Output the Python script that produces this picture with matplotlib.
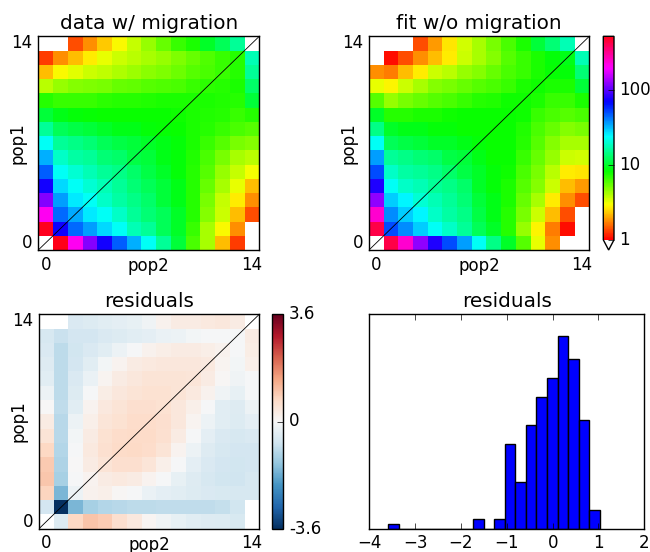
import numpy as np
import matplotlib
matplotlib.use('Agg')
import matplotlib.pyplot as plt
from matplotlib.colors import LogNorm, Normalize
from matplotlib.ticker import FormatStrFormatter

plt.style.use('classic')

pop_ids = ['pop1', 'pop2']
titles = ['data w/ migration', 'fit w/o migration', 'residuals', 'residuals']

# 2D frequency spectrum, rows = pop1 (0..14), columns = pop2 (0..14); 0 = empty cell
data_counts = [
    [0, 515, 208, 117, 74, 47, 33, 23, 15.4, 10.4, 6.2, 4.2, 2.2, 1.3, 0],
    [500, 72, 44, 36, 28, 23, 17.6, 15.4, 12, 9.8, 6.6, 4.2, 2.9, 1.8, 0],
    [208, 44, 34, 26, 23, 19, 15.4, 13.5, 12, 9.8, 7.1, 4.8, 3.6, 2.2, 1.4],
    [117, 36, 26, 23, 19, 16.5, 14.4, 12.7, 10.4, 9.2, 7.1, 5.1, 3.7, 2.7, 1.8],
    [74, 28, 23, 20, 17.6, 15.4, 13.5, 12, 10.4, 9.2, 7.1, 5.4, 4.2, 3.2, 2.2],
    [47, 23, 20, 17.6, 15.4, 14.4, 12.7, 11.1, 9.8, 8.5, 7.1, 5.8, 4.5, 3.7, 3.0],
    [33, 19, 16.5, 15.4, 13.5, 12.7, 11.1, 10.4, 9.2, 8.5, 7.3, 6.2, 5.1, 4.2, 3.9],
    [23, 15.4, 14.4, 13.5, 11.9, 11.1, 10.4, 9.8, 9.2, 8.5, 7.5, 6.6, 5.8, 5.1, 4.8],
    [15.4, 11.9, 11.1, 10.4, 9.8, 9.2, 9.2, 8.5, 8.2, 8.0, 7.5, 7.1, 6.6, 6.2, 5.8],
    [10.4, 9.2, 8.5, 8.2, 8.0, 8.0, 8.0, 8.0, 8.0, 7.8, 7.5, 7.3, 7.1, 6.6, 7.1],
    [7.1, 6.6, 6.6, 6.6, 6.9, 7.1, 7.1, 7.3, 7.5, 7.5, 7.5, 7.5, 7.3, 7.1, 10.4],
    [3.9, 4.5, 4.8, 5.0, 5.1, 5.4, 5.6, 5.8, 6.0, 6.2, 6.6, 6.9, 7.1, 7.5, 12.7],
    [2.2, 2.9, 3.3, 3.6, 3.8, 4.1, 4.4, 4.7, 5.0, 5.3, 5.8, 6.2, 6.6, 7.1, 15.4],
    [1.3, 1.8, 2.2, 2.7, 3.2, 3.6, 3.9, 4.2, 4.5, 5.0, 5.4, 6.0, 6.6, 7.1, 17.6],
    [0, 0, 1.4, 1.8, 2.3, 2.9, 3.7, 4.5, 5.4, 6.6, 7.5, 9.8, 11.9, 15.4, 0],
]

model_counts = [
    [0, 420, 238, 124, 78, 50, 36, 23, 14.4, 9.8, 5.8, 3.2, 1.8, 0, 0],
    [420, 50, 38, 29, 23, 18.8, 15.4, 11.9, 9.8, 7.1, 4.5, 2.8, 1.7, 1.05, 0],
    [238, 38, 29, 25, 19, 16.5, 14.4, 11.1, 9.2, 7.1, 5.1, 3.6, 2.2, 1.4, 0],
    [124, 29, 25, 20, 17.6, 15.4, 13.5, 10.4, 9.2, 7.5, 5.4, 4.2, 2.7, 1.8, 1.4],
    [78, 23, 19, 17.6, 15.4, 14.4, 12.7, 9.8, 8.5, 7.5, 5.8, 4.8, 3.6, 2.2, 1.9],
    [50, 18.8, 16.5, 15.4, 14.4, 12.7, 11.1, 9.8, 8.5, 7.8, 6.2, 5.1, 3.9, 2.7, 2.6],
    [36, 15.4, 14.4, 13.5, 12.7, 11.1, 10.4, 9.2, 8.0, 8.0, 6.6, 5.4, 4.5, 3.6, 3.5],
    [23, 11.9, 11.1, 10.4, 9.8, 9.8, 9.2, 8.5, 8.0, 8.0, 7.1, 5.8, 4.8, 4.2, 4.2],
    [14.4, 9.8, 9.2, 9.2, 8.5, 8.5, 8.0, 8.0, 8.0, 8.0, 7.3, 6.2, 5.4, 4.8, 5.1],
    [9.8, 7.1, 7.1, 7.5, 7.5, 7.8, 8.0, 8.0, 8.0, 8.0, 7.8, 6.6, 6.2, 5.8, 6.2],
    [5.8, 4.5, 5.1, 5.4, 5.8, 6.2, 6.6, 7.1, 7.3, 7.8, 7.9, 7.5, 6.6, 6.6, 7.5],
    [3.2, 2.8, 3.6, 4.2, 4.8, 5.1, 5.4, 5.8, 6.2, 6.6, 7.5, 7.8, 7.5, 7.5, 10.4],
    [1.8, 1.7, 2.2, 2.7, 3.6, 3.9, 4.5, 4.8, 5.4, 6.2, 6.6, 7.5, 8.2, 8.5, 13.5],
    [0, 1.05, 1.4, 1.8, 2.2, 2.7, 3.6, 4.2, 4.8, 5.8, 6.6, 7.5, 8.5, 9.2, 17.6],
    [0, 0, 0, 1.4, 1.9, 2.6, 3.5, 4.2, 5.1, 6.2, 7.5, 10.4, 13.5, 17.6, 0],
]

# Poisson residuals, nan = masked cell
nan = np.nan
residuals = [
    [nan, -0.5, 0.75, 1.03, 0.9, 0.6, 0.38, 0.08, -0.15, -0.3, -0.4, -0.45, -0.5, -0.58, nan],
    [-0.65, -3.585, -1.65, -1.2, -1.05, -1.0, -0.95, -0.95, -0.9, -0.9, -0.9, -0.9, -0.85, -0.7, nan],
    [0.8, -1.65, -0.2, 0.15, 0.2, 0.05, -0.05, -0.25, -0.35, -0.42, -0.48, -0.55, -0.58, -0.6, -0.6],
    [1.0, -1.2, -0.05, 0.12, 0.3, 0.35, 0.3, 0.12, -0.05, -0.3, -0.45, -0.6, -0.7, -0.72, -0.6],
    [0.95, -1.1, 0.0, 0.3, 0.5, 0.6, 0.6, 0.45, 0.2, -0.05, -0.35, -0.55, -0.65, -0.7, -0.65],
    [0.75, -1.05, -0.05, 0.35, 0.58, 0.68, 0.72, 0.65, 0.48, 0.12, -0.2, -0.45, -0.6, -0.65, -0.65],
    [0.5, -1.0, -0.1, 0.3, 0.55, 0.65, 0.7, 0.68, 0.58, 0.3, -0.05, -0.35, -0.55, -0.6, -0.55],
    [0.3, -1.0, -0.2, 0.2, 0.45, 0.55, 0.65, 0.65, 0.6, 0.4, 0.1, -0.2, -0.42, -0.5, -0.35],
    [0.0, -0.9, -0.4, 0.12, 0.38, 0.5, 0.6, 0.6, 0.55, 0.4, 0.22, -0.05, -0.4, -0.45, -0.2],
    [-0.2, -0.95, -0.5, -0.05, 0.28, 0.42, 0.5, 0.55, 0.55, 0.5, 0.35, 0.15, -0.15, -0.3, -0.05],
    [-0.4, -0.95, -0.55, -0.25, 0.1, 0.3, 0.42, 0.48, 0.48, 0.5, 0.45, 0.3, 0.05, -0.15, -0.05],
    [-0.45, -0.95, -0.65, -0.4, -0.1, 0.12, 0.3, 0.35, 0.42, 0.42, 0.4, 0.35, 0.1, -0.1, 0.2],
    [-0.55, -0.95, -0.7, -0.55, -0.4, -0.2, -0.05, 0.15, 0.25, 0.3, 0.3, 0.25, 0.15, -0.05, 0.28],
    [-0.6, -0.8, -0.65, -0.65, -0.55, -0.5, -0.4, -0.35, -0.25, -0.2, -0.1, -0.05, -0.05, -0.05, 0.3],
    [nan, nan, -0.55, -0.5, -0.4, -0.35, -0.3, -0.15, 0.15, 0.3, 0.3, 0.35, 0.4, 0.3, nan],
]

# histogram of residuals: 20 bins between min and max residual
hist_counts = [1, 0, 0, 0, 0, 0, 0, 0, 2, 0, 2, 18, 10, 22, 28, 32, 41, 36, 23, 4]
hist_min = -3.585
hist_max = 1.033

data = np.ma.masked_less(np.array(data_counts, dtype=float), 1)
model = np.ma.masked_less(np.array(model_counts, dtype=float), 1)
resid = np.ma.masked_invalid(np.array(residuals, dtype=float))

vmax = max(data.max(), model.max())
sfs_cmap = plt.cm.hsv.copy()
sfs_cmap.set_under('white')
sfs_norm = LogNorm(vmin=1, vmax=vmax)

resid_range = max(abs(resid.max()), abs(resid.min()))
resid_norm = Normalize(vmin=-resid_range, vmax=resid_range)


def plot_sfs(ax, sfs, cmap, norm):
    n = sfs.shape[0]
    edges = np.arange(n + 1) - 0.5
    mesh = ax.pcolormesh(edges, edges, sfs, cmap=cmap, norm=norm)
    ax.plot([edges[0], edges[-1]], [edges[0], edges[-1]], '-k', lw=0.6)
    ax.set_xlim(edges[0], edges[-1])
    ax.set_ylim(edges[0], edges[-1])
    ax.set_xticks([0, n - 1])
    ax.set_yticks([0, n - 1])
    ax.tick_params(length=0)
    ax.set_ylabel(pop_ids[0], va='top', labelpad=2)
    ax.set_xlabel(pop_ids[1], va='bottom', labelpad=1)
    return mesh


W, H = 650, 552
fig = plt.figure(figsize=(W / 100, H / 100), dpi=100, facecolor='white')


def box(x0, y0, x1, y1):
    # pixel box -> figure fraction
    return [x0 / W, 1 - y1 / H, (x1 - x0) / W, (y1 - y0) / H]


ax1 = fig.add_axes(box(38.3, 36.3, 259.3, 250))
ax2 = fig.add_axes(box(369, 36.3, 589.3, 250))
cax2 = fig.add_axes(box(603.3, 36.3, 614, 250))
ax3 = fig.add_axes(box(39, 314.3, 259.3, 528.7))
cax3 = fig.add_axes(box(272.3, 314.3, 283.3, 528.7))
ax4 = fig.add_axes(box(369.3, 314.3, 644.3, 528.7))

plot_sfs(ax1, data, sfs_cmap, sfs_norm)
ax1.set_title(titles[0])

m2 = plot_sfs(ax2, model, sfs_cmap, sfs_norm)
ax2.set_title(titles[1])
cb = fig.colorbar(m2, cax=cax2, extend='min')
cb.set_ticks([1, 10, 100])
cb.ax.yaxis.set_major_formatter(FormatStrFormatter('%.3g'))
cb.ax.minorticks_off()

m3 = plot_sfs(ax3, resid, plt.cm.RdBu_r, resid_norm)
ax3.set_title(titles[2])
cb3 = fig.colorbar(m3, cax=cax3)
cb3.set_ticks([-resid_range, 0, resid_range])
cb3.ax.yaxis.set_major_formatter(FormatStrFormatter('%.2g'))
cb3.ax.minorticks_off()

edges = np.linspace(hist_min, hist_max, len(hist_counts) + 1)
centers = (edges[:-1] + edges[1:]) / 2
ax4.hist(centers, bins=edges, weights=hist_counts, density=True, color='b')
ax4.set_xlim(-4, 2)
ax4.set_yticks([])
ax4.set_title(titles[3])

fig.savefig('out.png', dpi=100, facecolor='white')
